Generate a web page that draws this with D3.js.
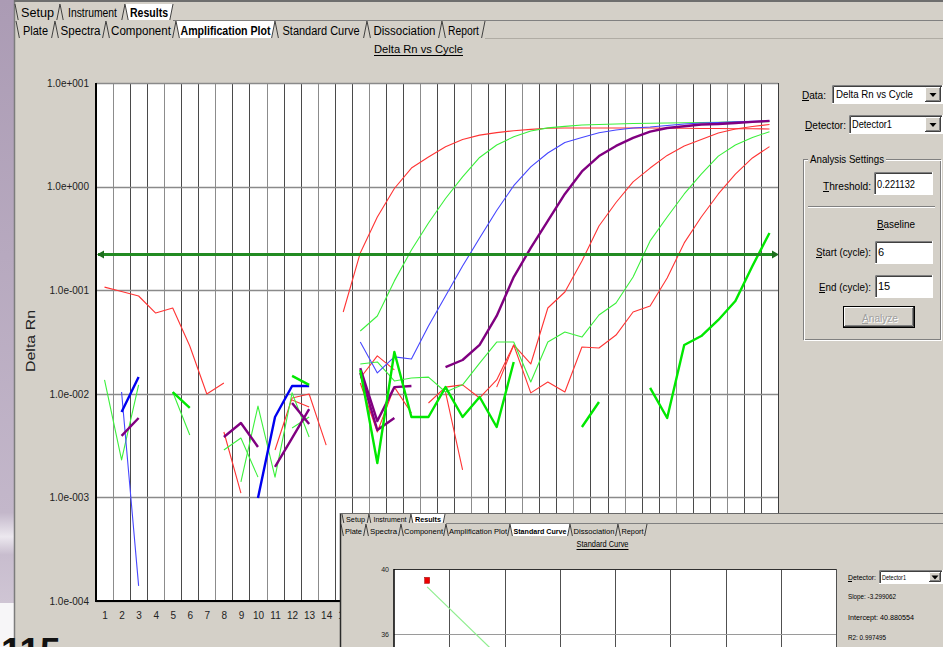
<!DOCTYPE html>
<html>
<head>
<meta charset="utf-8">
<script src="https://cdn.jsdelivr.net/npm/d3@7/dist/d3.min.js"></script>
<style>
html,body{margin:0;padding:0;background:#d4d0c8;overflow:hidden;}
svg{display:block;}
svg text{font-family:"Liberation Sans",Arial,Helvetica,sans-serif;}
</style>
</head>
<body>
<svg id="chart" width="943" height="647"></svg>
<script>
const _ = null;

// ---------------- DATA ----------------
const cycles = [1,2,3,4,5,6,7,8,9,10,11,12,13,14,15,16,17,18,19,20,21,22,23,24,25,26,27,28,29,30,31,32,33,34,35,36,37,38,39,40];
const yTickValues = [1e-4, 1e-3, 1e-2, 1e-1, 1, 10];
const yTickLabels = ["1.0e-004","1.0e-003","1.0e-002","1.0e-001","1.0e+000","1.0e+001"];
const chartTitle = "Delta Rn vs Cycle";
const yAxisTitle = "Delta Rn";
const thresholdValue = 0.221132;

// Delta Rn per cycle (cycle 1..40), null = not plotted
const redA = [0.107,0.0972,0.0879,0.0602,0.0673,0.0289,0.00996,0.0127,_,_,_,_,_,_,0.0616,0.229,0.509,0.959,1.51,1.93,2.42,2.85,3.14,3.32,3.46,3.57,3.66,3.68,3.68,3.68,3.68,3.68,3.68,3.66,3.66,3.64,3.64,3.62,3.62,3.60];
const redB = [_,_,_,_,_,_,_,0.00428,0.0011,_,0.00287,0.00911,0.00996,0.0032,_,0.0127,0.00428,0.0116,0.00653,_,0.0104,0.00184,_,0.0116,0.0296,0.0194,0.0673,0.0961,0.191,0.417,0.702,1.11,1.51,2.0,2.47,2.85,3.29,3.6,3.8,3.98];
const redC = [_,_,_,_,_,_,_,_,_,_,_,0.00871,0.00746,_,_,0.0142,0.0232,0.017,_,0.00815,0.0116,0.0122,0.00911,0.0136,0.0296,0.0102,0.013,0.0104,0.0283,0.0277,0.0369,0.0616,0.0704,0.131,0.286,0.509,0.849,1.32,1.89,2.43];
const greenA = [0.0136,0.0023,0.0122,_,0.0104,0.004,_,0.00287,0.00374,0.00157,_,0.00468,0.00597,_,_,0.0404,0.0564,0.123,0.244,0.445,0.768,1.24,1.91,2.52,3.03,3.44,3.69,3.81,3.93,3.98,4.02,4.06,4.09,4.11,4.14,4.16,4.18,4.21,4.23,4.24];
const greenB = [_,_,_,_,_,_,_,_,0.00141,0.00762,0.00157,0.0102,0.00383,_,_,0.0194,0.0203,0.0133,0.0142,0.0145,0.0104,0.0122,0.0198,0.0316,0.0316,0.013,0.0316,0.0395,0.0353,0.0576,0.0752,0.134,0.299,0.509,0.849,1.32,1.97,2.52,2.98,3.39];
const greenC = [_,_,_,_,0.0104,0.0073,_,_,_,_,_,0.0149,0.0122,_,_,0.017,0.00215,0.0253,0.00597,0.00597,0.0116,0.00597,0.00931,0.00478,0.0203,_,_,_,0.00478,0.00833,_,_,0.0114,0.00584,0.0296,0.0361,0.0516,0.0787,0.171,0.357];
const blueA = [_,0.0104,0.00014,_,_,_,_,_,_,_,_,_,_,_,_,0.0316,0.0159,0.0227,0.0217,0.0451,0.0879,0.171,0.319,0.588,1.02,1.55,2.11,2.67,2.98,3.31,3.52,3.68,3.76,3.89,4.02,4.11,4.16,4.21,4.26,4.31];
const blueB = [_,0.00667,0.0145,_,_,_,_,_,_,0.000987,0.00597,0.0119,0.0119,_,_,_,_,_,_,_,_,_,_,_,_,_,_,_,_,_,_,_,_,_,_,_,_,_,_,_];
const purpleA = [_,0.00392,0.00584,_,_,_,_,0.00383,0.00522,0.00307,_,_,_,_,_,0.0177,0.00546,0.0116,0.0119,_,0.0181,0.0212,0.0296,0.0564,0.134,0.256,0.466,0.849,1.4,1.97,2.47,2.95,3.39,3.68,3.82,3.97,4.02,4.11,4.21,4.31];
const purpleB = [_,_,_,_,_,_,_,_,_,_,0.00197,0.00374,0.00713,_,_,0.0159,0.00447,0.00584,_,_,_,_,_,_,_,_,_,_,_,_,_,_,_,_,_,_,_,_,_,_];
const purpleC = [_,_,_,_,_,_,_,_,_,_,_,0.00815,0.00511,_,_,_,_,_,_,_,_,_,_,_,_,_,_,_,_,_,_,_,_,_,_,_,_,_,_,_];

// UI texts
const tabsRow1 = ["Setup","Instrument","Results"];
const tabsRow2 = ["Plate","Spectra","Component","Amplification Plot","Standard Curve","Dissociation","Report"];
const dataLabel = "Data:", dataValue = "Delta Rn vs Cycle";
const detectorLabel = "Detector:", detectorValue = "Detector1";
const groupLabel = "Analysis Settings";
const thresholdLabel = "Threshold:", thresholdText = "0.221132";
const baselineLabel = "Baseline";
const startLabel = "Start (cycle):", startValue = "6";
const endLabel = "End (cycle):", endValue = "15";
const analyzeLabel = "Analyze";

// Inset (standard curve screenshot)
const insetTitle = "Standard Curve";
const stdYTicks = [36, 40];
const stdPointLogQty = [0.6];
const stdPointCt = [39.3];
const stdSlope = -3.299062, stdIntercept = 40.880554;
const stdStats = ["Slope: -3.299062", "Intercept: 40.880554", "R2: 0.997495"];
const pageNumber = "115";

// ---------------- STYLES ----------------
const seriesDefs = [
  {name:"redA", values:redA}, {name:"redB", values:redB}, {name:"redC", values:redC},
  {name:"greenA", values:greenA}, {name:"greenB", values:greenB}, {name:"blueA", values:blueA},
  {name:"blueB", values:blueB}, {name:"purpleA", values:purpleA}, {name:"purpleB", values:purpleB},
  {name:"purpleC", values:purpleC}, {name:"greenC", values:greenC}
];
const seriesStyles = {
  redA:{c:"#ff3434",w:1.1}, redB:{c:"#ff3434",w:1.1}, redC:{c:"#ff3434",w:1.1},
  greenA:{c:"#3cf03c",w:1.1}, greenB:{c:"#3cf03c",w:1.1}, blueA:{c:"#4646ff",w:1.1},
  blueB:{c:"#0000f0",w:2.4}, purpleA:{c:"#800080",w:2.4}, purpleB:{c:"#800080",w:2.4},
  purpleC:{c:"#800080",w:2.4}, greenC:{c:"#00e800",w:2.4}
};

const W = 943, H = 647;
const svg = d3.select("#chart");
const defs = svg.append("defs");
const FACE = "#d4d0c8";

// background
svg.append("rect").attr("width", W).attr("height", H).attr("fill", FACE);
const lg = defs.append("linearGradient").attr("id","strip").attr("x1",0).attr("y1",0).attr("x2",0).attr("y2",1);
lg.append("stop").attr("offset","0%").attr("stop-color","#ab9bb4");
lg.append("stop").attr("offset","85%").attr("stop-color","#c3b7ca");
lg.append("stop").attr("offset","89%").attr("stop-color","#ece8ef");
lg.append("stop").attr("offset","92%").attr("stop-color","#c8bdce");
lg.append("stop").attr("offset","100%").attr("stop-color","#cfc5d4");
svg.append("rect").attr("x",0).attr("y",0).attr("width",14).attr("height",603).attr("fill","url(#strip)");
svg.append("rect").attr("x",0).attr("y",603).attr("width",14).attr("height",44).attr("fill","#f7f6f8");
svg.append("line").attr("x1",14.5).attr("x2",14.5).attr("y1",0).attr("y2",H).attr("stroke","#7c7c7c").attr("stroke-width",1.5);
svg.append("line").attr("x1",14).attr("x2",W).attr("y1",1).attr("y2",1).attr("stroke","#6e6e6e").attr("stroke-width",2);

// ---------- helpers ----------
function drawTabs(g, labels, bounds, widths, active, top, bottom, baseline, fs) {
  labels.forEach((lab, i) => {
    const [x0, x1] = bounds[i];
    const s = (bottom - top) * 0.2;
    g.append("polygon")
      .attr("points", `${x0},${top} ${x0+s},${bottom} ${x1-s},${bottom} ${x1},${top}`)
      .attr("fill", i === active ? "#ffffff" : FACE);
    g.append("line").attr("x1",x0).attr("y1",top).attr("x2",x0+s).attr("y2",bottom).attr("stroke","#303030").attr("stroke-width",0.9);
    g.append("line").attr("x1",x1).attr("y1",top).attr("x2",x1-s).attr("y2",bottom).attr("stroke","#303030").attr("stroke-width",0.9);
    g.append("text").attr("x",(x0+x1)/2).attr("y",baseline).attr("text-anchor","middle")
      .attr("font-size",fs).attr("font-weight", i === active ? "bold" : "normal")
      .attr("textLength", widths[i]).attr("lengthAdjust","spacingAndGlyphs")
      .attr("fill","#000").text(lab);
  });
}
function sunken(g, x, y, w, h) {
  g.append("rect").attr("x",x).attr("y",y).attr("width",w).attr("height",h).attr("fill","#fff");
  g.append("path").attr("d",`M${x+0.5},${y+h} V${y+0.5} H${x+w}`).attr("fill","none").attr("stroke","#808080");
  g.append("path").attr("d",`M${x+1.5},${y+h-1} V${y+1.5} H${x+w-1}`).attr("fill","none").attr("stroke","#404040");
  g.append("path").attr("d",`M${x},${y+h-0.5} H${x+w-0.5} V${y}`).attr("fill","none").attr("stroke","#ffffff");
}
function raised(g, x, y, w, h) {
  g.append("rect").attr("x",x).attr("y",y).attr("width",w).attr("height",h).attr("fill",FACE);
  g.append("path").attr("d",`M${x+0.5},${y+h} V${y+0.5} H${x+w}`).attr("fill","none").attr("stroke","#ffffff");
  g.append("path").attr("d",`M${x},${y+h-0.5} H${x+w-0.5} V${y}`).attr("fill","none").attr("stroke","#404040");
  g.append("path").attr("d",`M${x+1},${y+h-1.5} H${x+w-1.5} V${y+1}`).attr("fill","none").attr("stroke","#808080");
}
function combo(g, x, y, w, h, value, fs, tx, len) {
  sunken(g, x, y, w, h);
  const t = g.append("text").attr("x",x+tx).attr("y",y+h/2+fs*0.36).attr("font-size",fs).attr("fill","#000").text(value);
  if (len) t.attr("textLength",len).attr("lengthAdjust","spacingAndGlyphs");
  const bw = Math.round(h*0.85), bx = x + w - bw - 2;
  raised(g, bx, y+2, bw, h-4);
  const cx = bx + bw/2, cy = y + h/2;
  g.append("polygon").attr("points",`${cx-3.5},${cy-1.5} ${cx+3.5},${cy-1.5} ${cx},${cy+2.5}`).attr("fill","#000");
}
function label(g, x, y, s, fs, opts={}) {
  const t = g.append("text").attr("x",x).attr("y",y).attr("font-size",fs).attr("fill",opts.fill||"#000")
    .attr("text-anchor",opts.anchor||"start").text(s);
  if (opts.len) t.attr("textLength",opts.len).attr("lengthAdjust","spacingAndGlyphs");
  if (opts.ul) {
    const bb = t.node().getBBox();
    g.append("line").attr("x1",bb.x).attr("x2",bb.x+opts.ul).attr("y1",y+1.5).attr("y2",y+1.5).attr("stroke",opts.fill||"#000");
  }
  return t;
}

// ---------- top tabs ----------
const tabG = svg.append("g");
tabG.append("line").attr("x1",173).attr("x2",W).attr("y1",20.5).attr("y2",20.5).attr("stroke","#808080");
tabG.append("line").attr("x1",485).attr("x2",W).attr("y1",38.5).attr("y2",38.5).attr("stroke","#b0aca4");
drawTabs(tabG, tabsRow1, [[15,60],[60,125],[125,173]], [33,49,38], 2, 4, 20, 17, 12);
drawTabs(tabG, tabsRow2, [[16,55],[55,106],[106,176],[176,275],[275,367],[367,442],[442,485]], [25,40,60,90,77,62,31], 3, 21, 38, 35, 12);
label(svg, 418.5, 53, chartTitle, 11.5, {anchor:"middle", len:89});
svg.append("line").attr("x1",374).attr("x2",463).attr("y1",55.5).attr("y2",55.5).attr("stroke","#000");

// ---------- main plot ----------
const X0 = 96, X1 = 778, Y0 = 83, Y1 = 601;
const x = d3.scaleLinear().domain([0.5, 40.5]).range([X0, X1]);
const y = d3.scaleLog().domain([1e-4, 10]).range([Y1, Y0]);

svg.append("rect").attr("x",X0).attr("y",Y0).attr("width",X1-X0).attr("height",Y1-Y0).attr("fill","#fff");
defs.append("clipPath").attr("id","plotclip").append("rect").attr("x",X0).attr("y",Y0).attr("width",X1-X0).attr("height",Y1-Y0);

const grid = svg.append("g");
const edges = cycles.map(c => c - 0.5).concat([cycles[cycles.length-1] + 0.5]);
grid.selectAll("line.v").data(edges).join("line").attr("class","v")
  .attr("x1", d => Math.round(x(d)) + 0.5).attr("x2", d => Math.round(x(d)) + 0.5)
  .attr("y1", Y0).attr("y2", Y1)
  .attr("stroke", (d,i) => i % 3 === 1 ? "#8c8c8c" : "#4a4a4a").attr("stroke-width", 1);
grid.selectAll("line.h").data(yTickValues).join("line").attr("class","h")
  .attr("x1", X0).attr("x2", X1)
  .attr("y1", d => Math.round(y(d)) + 0.5).attr("y2", d => Math.round(y(d)) + 0.5)
  .attr("stroke", "#8a8a8a").attr("stroke-width", 1.5);

// series
const lineGen = d3.line().defined(d => d.v !== null).x(d => x(d.c)).y(d => y(d.v));
const plotG = svg.append("g").attr("clip-path","url(#plotclip)");
seriesDefs.forEach(s => {
  const pts = cycles.map((c, i) => ({c, v: s.values[i]}));
  const st = seriesStyles[s.name];
  plotG.append("path").datum(pts).attr("d", lineGen)
    .attr("fill","none").attr("stroke", st.c).attr("stroke-width", st.w)
    .attr("stroke-linejoin","round");
});

// threshold
const ty = y(thresholdValue);
svg.append("line").attr("x1",X0+2).attr("x2",X1-4).attr("y1",ty).attr("y2",ty)
  .attr("stroke","#228b22").attr("stroke-width",3);
svg.append("polygon").attr("points",`${X0+1},${ty} ${X0+8},${ty-4} ${X0+8},${ty+4}`).attr("fill","#1c6e1c");
svg.append("polygon").attr("points",`${X1+1},${ty} ${X1-6},${ty-4} ${X1-6},${ty+4}`).attr("fill","#1c6e1c");

// frame
svg.append("line").attr("x1",X0).attr("x2",X0).attr("y1",Y0).attr("y2",Y1+1).attr("stroke","#000").attr("stroke-width",2);
svg.append("line").attr("x1",X0).attr("x2",X1).attr("y1",Y1).attr("y2",Y1).attr("stroke","#000").attr("stroke-width",2);
svg.append("line").attr("x1",X1+0.5).attr("x2",X1+0.5).attr("y1",Y0).attr("y2",Y1).attr("stroke","#3c3c3c").attr("stroke-width",1);

// axes
const xAxis = svg.append("g").attr("transform",`translate(0,${Y1})`)
  .call(d3.axisBottom(x).tickValues(cycles).tickSize(0).tickPadding(11));
xAxis.select(".domain").remove();
xAxis.selectAll("text").attr("font-size",10).attr("fill","#222");
const yAxis = svg.append("g").attr("transform",`translate(${X0},0)`)
  .call(d3.axisLeft(y).tickValues(yTickValues).tickFormat((d,i) => yTickLabels[i]).tickSize(0).tickPadding(7));
yAxis.select(".domain").remove();
yAxis.selectAll("text").attr("font-size",10).attr("fill","#222");
svg.append("text").attr("transform","translate(35,341) rotate(-90)").attr("text-anchor","middle")
  .attr("font-size",13).attr("fill","#222").attr("textLength",62).attr("lengthAdjust","spacingAndGlyphs").text(yAxisTitle);

// ---------- right panel ----------
const rp = svg.append("g");
label(rp, 802, 99, dataLabel, 11, {ul:7, len:24});
combo(rp, 832, 85, 111, 19, dataValue, 11, 4, 77);
label(rp, 805, 129, detectorLabel, 11, {ul:7, len:41});
combo(rp, 849, 115, 94, 19, detectorValue, 11, 3, 40);
// group box
rp.append("rect").attr("x",803.5).attr("y",159.5).attr("width",137).attr("height",180).attr("fill","none").attr("stroke","#808080");
rp.append("rect").attr("x",804.5).attr("y",160.5).attr("width",137).attr("height",180).attr("fill","none").attr("stroke","#ffffff");
rp.append("rect").attr("x",808).attr("y",152).attr("width",78).attr("height",14).attr("fill",FACE);
label(rp, 810, 163, groupLabel, 11, {len:74});
label(rp, 871, 190, thresholdLabel, 11, {anchor:"end", ul:6, len:48});
sunken(rp, 874, 172, 59, 23);
label(rp, 877, 188, thresholdText, 11, {len:38});
rp.append("line").attr("x1",808).attr("x2",935).attr("y1",206.5).attr("y2",206.5).attr("stroke","#808080");
rp.append("line").attr("x1",808).attr("x2",935).attr("y1",207.5).attr("y2",207.5).attr("stroke","#ffffff");
label(rp, 877, 228, baselineLabel, 11, {ul:7, len:38});
label(rp, 871, 256, startLabel, 11, {anchor:"end", ul:6, len:55});
sunken(rp, 875, 241, 58, 23);
label(rp, 878, 256, startValue, 11);
label(rp, 871, 291, endLabel, 11, {anchor:"end", ul:6, len:52});
sunken(rp, 875, 275, 58, 23);
label(rp, 878, 290, endValue, 11);
rp.append("rect").attr("x",843.5).attr("y",306.5).attr("width",71).attr("height",21).attr("fill","none").attr("stroke","#000");
raised(rp, 844, 307, 70, 20);
label(rp, 880, 322, analyzeLabel, 11, {anchor:"middle", fill:"#ffffff", len:36}).attr("transform","translate(1,1)");
label(rp, 880, 322, analyzeLabel, 11, {anchor:"middle", fill:"#a0a0a0", ul:6, len:36});

// ---------- inset screenshot ----------
const ins = svg.append("g");
ins.append("rect").attr("x",340).attr("y",513).attr("width",W-340).attr("height",H-513).attr("fill",FACE);
ins.append("line").attr("x1",340.5).attr("x2",340.5).attr("y1",513).attr("y2",H).attr("stroke","#2a2a2a").attr("stroke-width",1.5);
ins.append("line").attr("x1",340).attr("x2",W).attr("y1",513.5).attr("y2",513.5).attr("stroke","#6a6a6a");
ins.append("line").attr("x1",446).attr("x2",W).attr("y1",523.5).attr("y2",523.5).attr("stroke","#808080");
drawTabs(ins, tabsRow1, [[342,369],[369,411],[411,445]], [19,33,26], 2, 514, 523, 521.5, 8);
drawTabs(ins, tabsRow2, [[341,366],[366,401],[401,446],[446,510],[510,570],[570,618],[618,647]], [17,27,39,58,53,41,22], 4, 524, 536, 533.5, 8);
label(ins, 602.5, 547, insetTitle, 8.5, {anchor:"middle", len:52});
ins.append("line").attr("x1",576.5).attr("x2",628.5).attr("y1",549.5).attr("y2",549.5).attr("stroke","#000");

const ix = d3.scaleLinear().domain([0, 8]).range([394, 836]);
const iy = d3.scaleLinear().domain([36, 40]).range([634, 569]);
ins.append("rect").attr("x",394).attr("y",569).attr("width",442).attr("height",H-569).attr("fill","#fff");
ins.selectAll("line.iv").data(d3.range(1, 9)).join("line").attr("class","iv")
  .attr("x1", d => Math.round(ix(d))+0.5).attr("x2", d => Math.round(ix(d))+0.5)
  .attr("y1", 569).attr("y2", H).attr("stroke","#505050");
ins.selectAll("line.ih").data(stdYTicks).join("line").attr("class","ih")
  .attr("x1", 394).attr("x2", 836).attr("y1", d => Math.round(iy(d))+0.5).attr("y2", d => Math.round(iy(d))+0.5)
  .attr("stroke", d => d === 40 ? "#303030" : "#9a9a9a");
ins.append("line").attr("x1",394).attr("x2",394).attr("y1",569).attr("y2",H).attr("stroke","#000").attr("stroke-width",1.5);
ins.selectAll("text.iyt").data(stdYTicks).join("text").attr("class","iyt")
  .attr("x", 389).attr("y", d => iy(d) + 2.5).attr("text-anchor","end").attr("font-size",7).attr("fill","#222").text(d => d);
defs.append("clipPath").attr("id","insclip").append("rect").attr("x",394).attr("y",569).attr("width",442).attr("height",H-569);
const fitLine = [stdPointLogQty[0], 8].map(q => ({q, ct: stdSlope*q + stdIntercept}));
ins.append("path").datum(fitLine).attr("clip-path","url(#insclip)")
  .attr("d", d3.line().x(d => ix(d.q)).y(d => iy(d.ct)))
  .attr("fill","none").attr("stroke","#8fee8f").attr("stroke-width",1.2);
ins.selectAll("rect.pt").data(stdPointLogQty).join("rect").attr("class","pt")
  .attr("x", d => ix(d) - 2.5).attr("y", (d,i) => iy(stdPointCt[i]) - 3).attr("width",5).attr("height",6)
  .attr("fill","#ee0000").attr("stroke","#990000").attr("stroke-width",0.5);

label(ins, 848, 580, detectorLabel, 7.5, {len:28, ul:4});
combo(ins, 879, 570, 64, 14, detectorValue, 7, 3, 24);
stdStats.forEach((s, i) => {
  label(ins, 848, [599, 620, 640][i], s, 7.5, {len:[48,66,38][i]});
});

// page number fragment bottom-left (cropped in the reference too)
svg.append("text").attr("x",1).attr("y",664).attr("font-size",37).attr("font-weight","bold").attr("fill","#111").text(pageNumber);
</script>
</body>
</html>
